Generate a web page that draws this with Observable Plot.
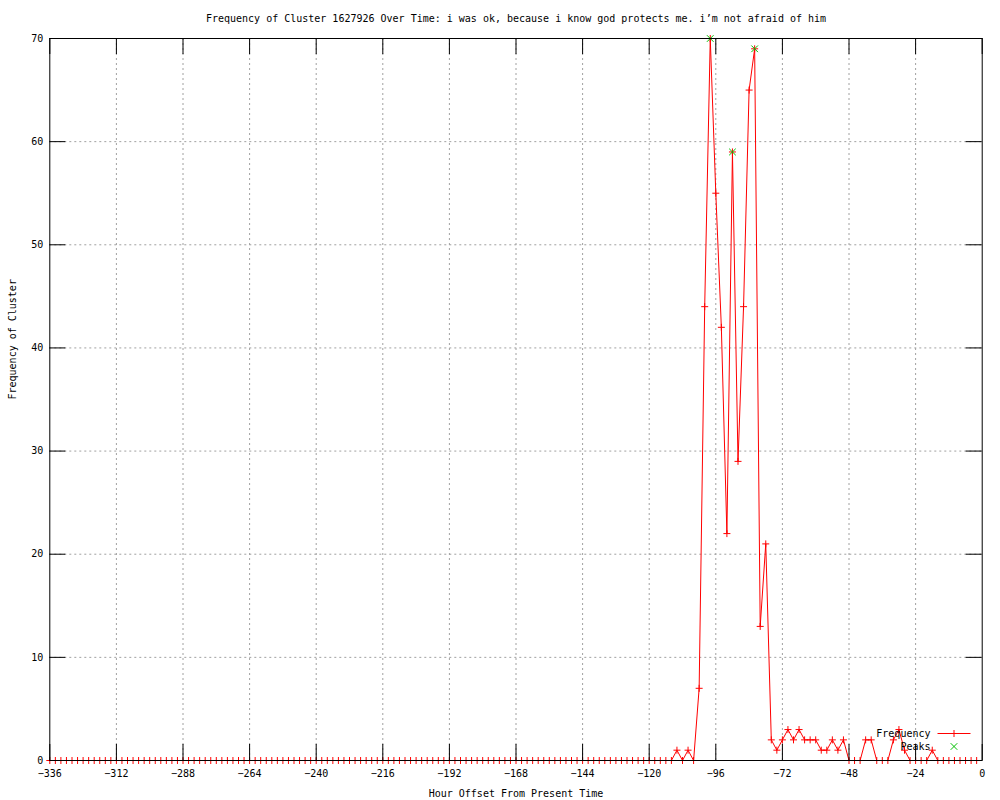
<!DOCTYPE html>
<html>
<head>
<meta charset="utf-8">
<script src="https://cdn.jsdelivr.net/npm/d3@7"></script>
<script src="https://cdn.jsdelivr.net/npm/@observablehq/plot@0.6"></script>
<style>
  html, body { margin: 0; padding: 0; background: #fff; }
  #chart { width: 1000px; height: 800px; }
</style>
</head>
<body>
<div id="chart"></div>
<script>
const title = "Frequency of Cluster 1627926 Over Time: i was ok, because i know god protects me. i’m not afraid of him";
const xLabel = "Hour Offset From Present Time";
const yLabel = "Frequency of Cluster";
const xTicks = [-336, -312, -288, -264, -240, -216, -192, -168, -144, -120, -96, -72, -48, -24, 0];
const yTicks = [0, 10, 20, 30, 40, 50, 60, 70];

// hour offsets: every 2 hours from -336 to -2
const hours = d3.range(-336, 0, 2);
// frequency values, one per hour offset above
const freq = [
  0,0,0,0,0,0,0,0,0,0, 0,0,0,0,0,0,0,0,0,0,
  0,0,0,0,0,0,0,0,0,0, 0,0,0,0,0,0,0,0,0,0,
  0,0,0,0,0,0,0,0,0,0, 0,0,0,0,0,0,0,0,0,0,
  0,0,0,0,0,0,0,0,0,0, 0,0,0,0,0,0,0,0,0,0,
  0,0,0,0,0,0,0,0,0,0, 0,0,0,0,0,0,0,0,0,0,
  0,0,0,0,0,0,0,0,0,0, 0,0,0,
  1,0,1,0,7,44,70,55,42,22,
  59,29,44,65,69,13,21,2,1,2,
  3,2,3,2,2,2,1,1,2,1,
  2,0,0,0,2,2,0,0,0,2,
  3,1,0,0,0,0,1,0,0,0,
  0,0,0,0,0
];
const peakHours = [-98, -90, -82];
const peakValues = [70, 59, 69];

const series = hours.map((h, i) => ({hour: h, value: freq[i]}));
const peaks = peakHours.map((h, i) => ({hour: h, value: peakValues[i]}));

const plusSymbol = {draw(ctx) { const r = 3.5; ctx.moveTo(-r, 0); ctx.lineTo(r, 0); ctx.moveTo(0, -r); ctx.lineTo(0, r); }};
const timesSymbol = {draw(ctx) { const r = 3.3; ctx.moveTo(-r, -r); ctx.lineTo(r, r); ctx.moveTo(-r, r); ctx.lineTo(r, -r); }};
const legendLineSymbol = {draw(ctx) { const w = 16.5, r = 3.5; ctx.moveTo(-w, 0); ctx.lineTo(w, 0); ctx.moveTo(0, -r); ctx.lineTo(0, r); }};

const mL = 49.3, mR = 18.3, mT = 38, mB = 40;
const W = 1000, H = 800;
const fw = W - mL - mR, fh = H - mT - mB;
const red = "#ff0000", green = "#00c000";

const chart = Plot.plot({
  width: W, height: H,
  marginLeft: mL, marginRight: mR, marginTop: mT, marginBottom: mB,
  style: {fontFamily: "'DejaVu Sans Mono', monospace", fontSize: "10px", background: "#fff", color: "#000"},
  x: {domain: [-336, 0], axis: null},
  y: {domain: [0, 70], axis: null},
  marks: [
    Plot.gridX(xTicks.slice(1, -1), {stroke: "#a0a0a0", strokeOpacity: 1, strokeDasharray: "2,3"}),
    Plot.gridY(yTicks.slice(1, -1), {stroke: "#a0a0a0", strokeOpacity: 1, strokeDasharray: "2,3"}),
    Plot.line(series, {x: "hour", y: "value", stroke: red, strokeWidth: 1}),
    Plot.dot(series, {x: "hour", y: "value", symbol: plusSymbol, stroke: red, strokeWidth: 1, fill: "none"}),
    Plot.dot(peaks, {x: "hour", y: "value", symbol: timesSymbol, stroke: green, strokeWidth: 1, fill: "none"}),
    Plot.frame({stroke: "#000", strokeWidth: 1}),
    Plot.tickX(xTicks, {x: d => d, insetTop: fh - 16, stroke: "#000"}),
    Plot.tickX(xTicks, {x: d => d, insetBottom: fh - 16, stroke: "#000"}),
    Plot.tickY(yTicks, {y: d => d, insetRight: fw - 16, stroke: "#000"}),
    Plot.tickY(yTicks, {y: d => d, insetLeft: fw - 16, stroke: "#000"}),
    Plot.axisX(xTicks, {tickSize: 0, tickPadding: 9, label: null, tickFormat: d => String(d).replace("-", "−"), fill: "#000"}),
    Plot.axisY(yTicks, {tickSize: 0, tickPadding: 6.6, label: null, tickFormat: d => String(d), fill: "#000"}),
    Plot.text([title], {frameAnchor: "top", dy: -20, lineAnchor: "middle", fill: "#000"}),
    Plot.text([xLabel], {frameAnchor: "bottom", dy: 33, lineAnchor: "middle", fill: "#000"}),
    Plot.text([yLabel], {frameAnchor: "left", dx: -37, rotate: -90, lineAnchor: "middle", fill: "#000"}),
    // legend
    Plot.text(["Frequency"], {frameAnchor: "bottom-right", dx: -51.7, dy: -27, lineAnchor: "middle", textAnchor: "end", fill: "#000"}),
    Plot.text(["Peaks"], {frameAnchor: "bottom-right", dx: -51.7, dy: -14, lineAnchor: "middle", textAnchor: "end", fill: "#000"}),
    Plot.dot([0], {frameAnchor: "bottom-right", dx: -28.2, dy: -27, symbol: legendLineSymbol, stroke: red, strokeWidth: 1, fill: "none"}),
    Plot.dot([0], {frameAnchor: "bottom-right", dx: -28.2, dy: -14, symbol: timesSymbol, stroke: green, strokeWidth: 1, fill: "none"})
  ]
});
document.getElementById("chart").appendChild(chart);
</script>
</body>
</html>
